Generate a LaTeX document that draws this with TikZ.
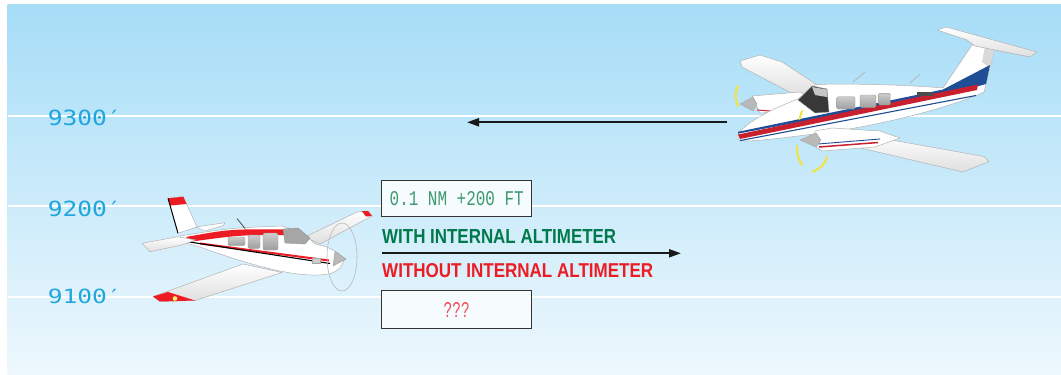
\documentclass[tikz,border=0pt]{standalone}
\usepackage{fontspec}
\usepackage{graphicx}
\usetikzlibrary{arrows.meta}
\newfontfamily\lcdfont{DejaVu Sans Mono}
\newfontfamily\boldsans{Liberation Sans}
\newfontfamily\boxmono{Liberation Mono}
\definecolor{skytop}{HTML}{A6DDF7}
\definecolor{skybot}{HTML}{EEF8FD}
\definecolor{altblue}{HTML}{1FA6DE}
\definecolor{withgreen}{HTML}{007A4C}
\definecolor{valgreen}{HTML}{3C9A6E}
\definecolor{withoutred}{HTML}{ED1C24}
\definecolor{qred}{HTML}{F0505A}
\definecolor{stripered}{HTML}{C8202E}
\definecolor{stripeblue}{HTML}{1F4E96}
\definecolor{propyellow}{HTML}{F3E33A}
\definecolor{boxfill}{HTML}{F6FBFE}
\begin{document}
\begin{tikzpicture}[x=1pt,y=-1pt,
  altlabel/.style={inner sep=0pt,anchor=east,text=altblue,font=\lcdfont},
  valbox/.style={draw=black!80,line width=0.8pt,fill=boxfill,minimum width=150pt,minimum height=36pt,inner sep=0pt},
  caption/.style={inner sep=0pt,anchor=south west},
  arrowline/.style={draw=black!90,line width=2pt,-{Triangle[length=12pt,width=8pt]}},
  skyline/.style={white,line width=2pt},
  body/.style={fill=white,draw=gray!60,line width=0.5pt,line join=round},
  under/.style={top color=white,bottom color=gray!25,draw=gray!60,line width=0.5pt,line join=round},
  glass/.style={top color=gray!40,bottom color=gray!75,draw=gray!80,line width=0.4pt,rounded corners=1.5pt},
  prop/.style={propyellow,line width=2pt,line cap=round}]
\useasboundingbox (0,0) rectangle (1061,375);
\fill[white] (0,0) rectangle (1061,375);
\shade[top color=skytop,bottom color=skybot] (7.5,4) rectangle (1061,375);
% altitude lines
\draw[skyline] (7.5,115.5) -- (1061,115.5);
\draw[skyline] (7.5,205.7) -- (1061,205.7);
\draw[skyline] (7.5,296.7) -- (1061,296.7);
% altitude labels
\node[altlabel] (l9300) at (122,118) {\resizebox{74pt}{15.5pt}{9300′}};
\node[altlabel] (l9200) at (122,209) {\resizebox{74pt}{15.5pt}{9200′}};
\node[altlabel] (l9100) at (122,296) {\resizebox{74pt}{14.5pt}{9100′}};

% ===== twin-engine aircraft =====
% far wing
\path[under] (740,61) -- (760,55) -- (782,62) -- (822,88) -- (797,96) -- (742,67) -- cycle;
% far nacelle
\path[body] (752,96) -- (800,92) -- (815,100) -- (812,110) -- (760,113) -- cycle;
\draw[stripered,line width=1pt] (757,110) -- (776,111.5);
\path[fill=gray!55,draw=gray!70,line width=0.4pt] (740,104) -- (753,97) -- (757,104) -- (753,111) -- cycle;
% fuselage and fin
\path[body] (738,134) .. controls (750,118) and (785,104) .. (798,99) -- (815,85) -- (830,84)
  .. controls (880,84) and (920,86) .. (943,88) -- (972,45) -- (995,47) -- (990,68) -- (984,92)
  .. controls (950,108) and (880,125) .. (830,132) .. controls (790,137) and (760,141) .. (745,141)
  .. controls (738,140) .. cycle;
\fill[gray!30] (985,46) -- (995,47) -- (990,68) -- (982,62) -- cycle;
% stabilizer
\path[under] (937,30) -- (946,27) -- (1037,52) -- (1030,57) -- (975,46) -- (967,40) -- cycle;
% stripes
\fill[stripeblue] (738,131.8) -- (943,89.5) -- (990,65) -- (986,84) -- (950,94) -- (738,133.6) -- cycle;
\fill[stripered] (738,134.5) -- (978,84.5) -- (977,90) -- (740,139) -- cycle;
\draw[stripeblue,line width=1.1pt] (740,140.6) -- (976,95.5);
% windshield and windows
\path[fill=black!78,draw=gray!80,line width=0.4pt] (798,100) -- (812,86) -- (827,89) -- (829,112) -- (815,113) -- cycle;
\fill[gray!45] (812,87) -- (827,89.5) -- (827,97) -- (815,95) -- cycle;
\path[glass] (836.7,96.7) rectangle (855,109);
\path[glass] (860,95) rectangle (876,107.7);
\path[glass] (878.3,93.3) rectangle (890.7,105);
\fill[black!70] (916.7,91.7) rectangle (933,95.7);
% antennas
\draw[gray!60,line width=0.7pt] (853,82) -- (865,72);
\draw[gray!60,line width=0.7pt] (910,83) -- (920,74);
% near wing
\path[under] (858,134) -- (984,156.5) -- (989,161.5) -- (963,172) -- (852,146) -- cycle;
% near nacelle
\path[body] (815,131) -- (832,128) -- (880,131) -- (900,138) -- (875,147) -- (822,151) -- (813,145) -- cycle;
\draw[stripeblue,line width=0.9pt] (818,144) -- (880,139);
\draw[stripered,line width=1.5pt] (819,147) -- (878,142.5);
\path[fill=gray!55,draw=gray!70,line width=0.4pt] (800,140) -- (816,133) -- (821,140) -- (816,147) -- cycle;
% propellers
\draw[prop] (737.5,86) .. controls (735,95) .. (737.5,106);
\draw[prop] (802,111) -- (799.5,119);
\draw[prop] (797,146) .. controls (797.5,157) .. (802,165);
\draw[prop] (827,157) .. controls (823,166) .. (813,172);

% ===== single-engine aircraft =====
% far horizontal stabilizer
\path[body] (196,227) -- (225,222.7) -- (223.3,225.5) -- (205,231) -- cycle;
% far wing
\path[under] (305,237) -- (357,212) -- (368,211) -- (372,216) -- (320,244) -- cycle;
\fill[withoutred] (362,211.2) -- (368,211) -- (372,216) -- (366,216.5) -- cycle;
% fin
\path[body] (168,198.3) -- (183.3,196.7) -- (197,227) -- (178,233.3) -- cycle;
\fill[withoutred] (168,198.3) -- (183.3,196.7) -- (186.5,204) -- (170.5,205.5) -- cycle;
\draw[black,line width=1pt] (168,198.3) -- (178,233.3);
% fuselage
\path[body] (180,236) .. controls (230,228) .. (282,226) -- (303,233) -- (315,244)
  .. controls (328,247) .. (338,253) -- (345,259) -- (340,268) .. controls (332,274) .. (318,275)
  .. controls (290,276) and (250,265) .. (200,247) -- (182,242) -- cycle;
% stripes
\fill[withoutred] (186,237) .. controls (230,229) .. (290,229.5) -- (286,235) .. controls (240,235) .. (192,241.5) -- cycle;
\draw[withoutred,line width=2pt] (200,243.5) -- (329,260.5);
\draw[black,line width=1.1pt] (183,241) -- (330,263.5);
% near horizontal stabilizer
\path[under] (142,243.3) -- (178,236.7) -- (195.5,240) -- (182,245) -- (150,251.7) -- cycle;
% windows
\path[glass] (228,237) rectangle (245,245.5);
\path[glass] (248,235) rectangle (260,248.3);
\path[glass] (263,233) rectangle (278,250);
\path[fill=gray!70,draw=gray!85,line width=0.4pt] (283,229) -- (298,228) -- (310,238) -- (305,244) -- (285,243) -- cycle;
% antenna
\draw[black!70,line width=0.8pt] (237,218.5) -- (245,228.5);
% near wing
\path[under] (243,264) -- (153,296.5) -- (160,301.5) -- (195,300.5) -- (282,272.5) -- cycle;
\fill[withoutred] (153,296.5) -- (168,292) -- (195,300.5) -- (160,301.5) -- cycle;
\fill[yellow!60] (175,298.5) circle (2.3pt);
% cowl details
\path[fill=gray!40,draw=gray!70,line width=0.4pt] (312,258) rectangle (320,263);
% spinner and propeller disk
\path[fill=gray!55,draw=gray!75,line width=0.4pt] (346,259) -- (335,251.5) -- (333,266) -- cycle;
\draw[gray!55,line width=0.6pt] (342,257) ellipse [x radius=15, y radius=34];

% ===== arrows =====
\coordinate (a1s) at (727,122.3);
\coordinate (a1e) at (467,122.3);
\draw[arrowline] (a1s) -- (a1e);
\coordinate (a2s) at (382,253.3);
\coordinate (a2e) at (681,253.3);
\draw[arrowline] (a2s) -- (a2e);

% ===== boxes and captions =====
\node[valbox] (withbox) at (456.7,198.3) {\resizebox{134pt}{14pt}{\color{valgreen}\boxmono 0.1 NM +200 FT}};
\node[valbox,minimum height=37.5pt] (withoutbox) at (456.7,309.5) {\resizebox{26pt}{15pt}{\color{qred}\boxmono ???}};
\node[caption] (withcap) at (382,244) {\resizebox{234pt}{14pt}{\color{withgreen}\boldsans\bfseries WITH INTERNAL ALTIMETER}};
\node[caption] (withoutcap) at (382,278) {\resizebox{271pt}{14pt}{\color{withoutred}\boldsans\bfseries WITHOUT INTERNAL ALTIMETER}};
\end{tikzpicture}
\end{document}
